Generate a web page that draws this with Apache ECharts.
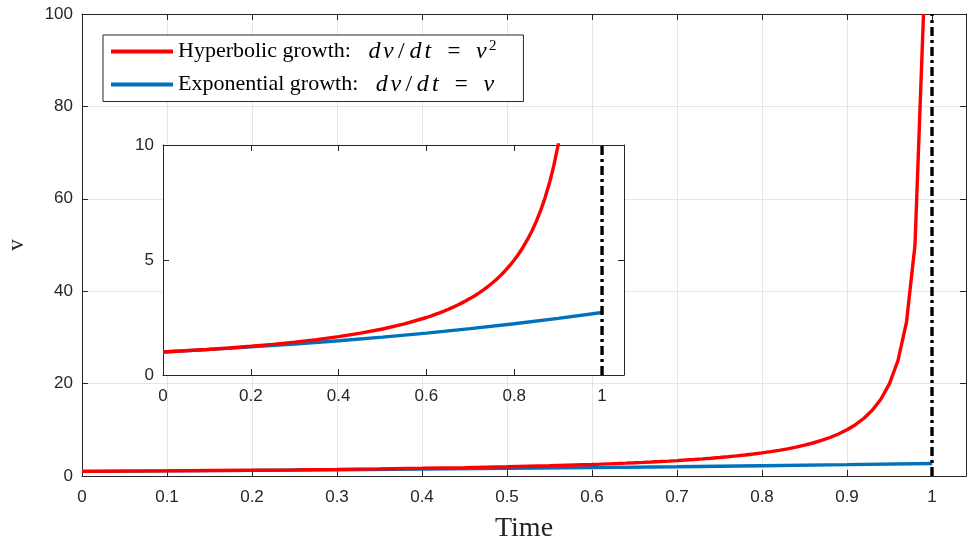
<!DOCTYPE html>
<html>
<head>
<meta charset="utf-8">
<script src="https://cdn.jsdelivr.net/npm/echarts@6/dist/echarts.min.js"></script>
<style>html,body{margin:0;padding:0;background:#fff;}#c{width:968px;height:544px;}</style>
</head>
<body>
<div id="c"></div>
<script>
// Hyperbolic growth samples (time, v)
const tHyp = [0,0.05,0.1,0.15,0.2,0.25,0.3,0.35,0.4,0.45,0.5,0.55,
  0.6,0.61,0.62,0.63,0.64,0.65,0.66,0.67,0.68,0.69,0.7,0.71,0.72,0.73,0.74,0.75,0.76,0.77,0.78,0.79,
  0.8,0.81,0.82,0.83,0.84,0.85,0.86,0.87,0.88,0.89,0.9,0.91,0.92,0.93,0.94,0.95,0.96,0.97,0.98,0.99];
const vHyp = [1,1.053,1.111,1.176,1.25,1.333,1.429,1.538,1.667,1.818,2.0,2.222,
  2.5,2.564,2.632,2.703,2.778,2.857,2.941,3.03,3.125,3.226,3.333,3.448,3.571,3.704,3.846,4.0,4.167,4.348,4.545,4.762,
  5.0,5.263,5.556,5.882,6.25,6.667,7.143,7.692,8.333,9.091,10.0,11.11,12.5,14.29,16.67,20.0,25.0,33.33,50.0,100.0];
// Exponential growth samples
const tExp = [0,0.1,0.2,0.3,0.4,0.5,0.6,0.7,0.8,0.9,1.0];
const vExp = [1,1.105,1.221,1.35,1.492,1.649,1.822,2.014,2.226,2.46,2.718];
// Blow-up time marker
const asymT = [1,1];
const asymMain = [0,100];
const asymInset = [0,10];
// Axis ticks
const mainXTicks = ['0','0.1','0.2','0.3','0.4','0.5','0.6','0.7','0.8','0.9','1'];
const mainYTicks = ['0','20','40','60','80','100'];
const insetXTicks = ['0','0.2','0.4','0.6','0.8','1'];
const insetYTicks = ['0','5','10'];
const nameHyp = 'Hyperbolic growth';
const nameExp = 'Exponential growth';

const pairs = (a,b)=>a.map((x,i)=>[x,b[i]]);
const AX = '#262626', GRID = '#e6e6e6';
const tickFmt = list => v => { const s = String(+v.toFixed(4)); return list.includes(s) ? s : ''; };

function xAx(grid, max, interval, ticks, pos, show, z){
  return {type:'value', gridIndex:grid, min:0, max:max, interval:interval, position:pos, z:z,
    axisLine:{show:true, onZero:false, lineStyle:{color:AX, width:1}},
    axisTick:{show:true, inside:true, length:6, lineStyle:{color:AX}},
    axisLabel:{show:show, color:AX, fontSize:17, fontFamily:'Liberation Sans', margin:13, formatter:tickFmt(ticks), showMaxLabel:false},
    splitLine:{show:false}};
}
function yAx(grid, max, interval, ticks, pos, show, z){
  return {type:'value', gridIndex:grid, min:0, max:max, interval:interval, position:pos, z:z,
    axisLine:{show:true, onZero:false, lineStyle:{color:AX, width:1}},
    axisTick:{show:true, inside:true, length:6, lineStyle:{color:AX}},
    axisLabel:{show:show, color:AX, fontSize:17, fontFamily:'Liberation Sans', margin:9, formatter:tickFmt(ticks)},
    splitLine:{show:false}};
}

const mx = xAx(0, 1.04, 0.1, mainXTicks, 'bottom', true, 1);
mx.splitLine = {show:true, lineStyle:{color:GRID, width:1}};
mx.name = 'Time'; mx.nameLocation = 'middle'; mx.nameGap = 39;
mx.nameTextStyle = {fontFamily:'Liberation Serif', fontSize:28, color:AX};
const my = yAx(0, 100, 20, mainYTicks, 'left', true, 1);
my.splitLine = {show:true, lineStyle:{color:GRID, width:1}};
my.name = 'v'; my.nameLocation = 'middle'; my.nameGap = 54;
my.nameTextStyle = {fontFamily:'Liberation Serif', fontSize:23, color:AX};

const F = 'Liberation Serif';
const base = {fontFamily:F, fontSize:24, color:'#000', align:'center'};
const rich = {
  a:{fontFamily:F, fontSize:22, color:'#000'},
  g:{fontFamily:F, fontSize:22, width:16},
  d:Object.assign({}, base, {fontStyle:'italic', width:15}),
  v:Object.assign({}, base, {fontStyle:'italic', width:13}),
  t:Object.assign({}, base, {fontStyle:'italic', width:10}),
  sl:Object.assign({}, base, {width:13}),
  eq:Object.assign({}, base, {fontSize:23, width:42}),
  s:{fontFamily:F, fontSize:15, color:'#000', verticalAlign:'top', padding:[0,0,10,1]}
};
const mathPart = '{g| }{d|d}{v|v}{sl|/}{d|d}{t|t}{eq|=}{v|v}';

const option = {
  animation:false,
  backgroundColor:'#fff',
  grid:[
    {left:82, right:2, top:14, bottom:68, show:false, outerBoundsMode:'none', containLabel:false},
    {left:163, width:461, top:145, height:230, show:true, backgroundColor:'#fff', borderWidth:0, z:10, outerBoundsMode:'none', containLabel:false}
  ],
  legend:{
    left:103, top:35, orient:'vertical', z:30,
    backgroundColor:'#fff', borderColor:'#262626', borderWidth:1, borderRadius:0,
    padding:[4,27,5,8], itemGap:9, itemWidth:62, itemHeight:4, icon:'rect',
    data:[nameHyp, nameExp],
    formatter: n => n===nameHyp ? '{a|Hyperbolic growth:}' + mathPart + '{s|2}' : '{a|Exponential growth:}' + mathPart,
    textStyle:{rich:rich}
  },
  xAxis:[
    mx,
    xAx(0, 1.04, 0.1, mainXTicks, 'top', false, 1),
    xAx(1, 1.05, 0.2, insetXTicks, 'bottom', true, 11),
    xAx(1, 1.05, 0.2, insetXTicks, 'top', false, 11)
  ],
  yAxis:[
    my,
    yAx(0, 100, 20, mainYTicks, 'right', false, 1),
    yAx(1, 10, 5, insetYTicks, 'left', true, 11),
    yAx(1, 10, 5, insetYTicks, 'right', false, 11)
  ],
  series:[
    {name:nameExp, type:'line', xAxisIndex:0, yAxisIndex:0, data:pairs(tExp,vExp), showSymbol:false, z:3,
      lineStyle:{color:'#0072BD', width:3.4}, itemStyle:{color:'#0072BD'}},
    {name:nameHyp, type:'line', xAxisIndex:0, yAxisIndex:0, data:pairs(tHyp,vHyp), showSymbol:false, z:4, clip:true,
      lineStyle:{color:'#ff0000', width:3.4}, itemStyle:{color:'#ff0000'}},
    {name:'asym', type:'line', xAxisIndex:0, yAxisIndex:0, data:pairs(asymT,asymMain), showSymbol:false, z:5,
      lineStyle:{color:'#000', width:3.4, type:[9,4,3,4]}},
    {name:nameExp, type:'line', xAxisIndex:2, yAxisIndex:2, data:pairs(tExp,vExp), showSymbol:false, z:12,
      lineStyle:{color:'#0072BD', width:3.4}, itemStyle:{color:'#0072BD'}},
    {name:nameHyp, type:'line', xAxisIndex:2, yAxisIndex:2, data:pairs(tHyp,vHyp), showSymbol:false, z:13, clip:true,
      lineStyle:{color:'#ff0000', width:3.4}, itemStyle:{color:'#ff0000'}},
    {name:'asym', type:'line', xAxisIndex:2, yAxisIndex:2, data:pairs(asymT,asymInset), showSymbol:false, z:14,
      lineStyle:{color:'#000', width:3.4, type:[9,4,3,4]}}
  ]
};
const chart = echarts.init(document.getElementById('c'), null, {renderer:'canvas'});
chart.setOption(option);
</script>
</body>
</html>
